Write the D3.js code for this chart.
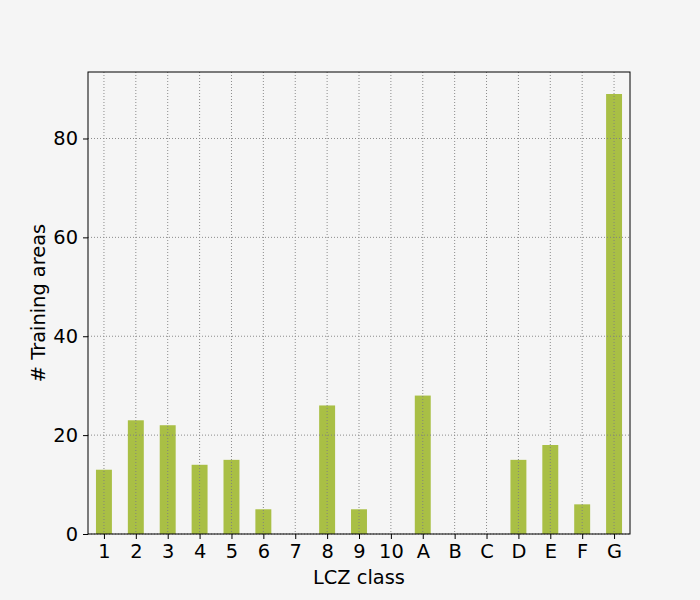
<!DOCTYPE html>
<html><head><meta charset="utf-8">
<script src="https://cdn.jsdelivr.net/npm/d3@7"></script>
<style>body{margin:0;background:#f5f5f5;}svg{display:block;}</style>
</head><body>
<script>
const categories = ["1","2","3","4","5","6","7","8","9","10","A","B","C","D","E","F","G"];
const counts = [13,23,22,14,15,5,0,26,5,0,28,0,0,15,18,6,89];
const yTicks = [0,20,40,60,80];

const W=700,H=600, L=88,R=630,T=72,B=534;
const svg=d3.select("body").append("svg").attr("width",W).attr("height",H).style("background","#f5f5f5");
const x=d3.scaleLinear().domain([-0.5,categories.length-0.5]).range([L,R]);
const y=d3.scaleLinear().domain([0,d3.max(counts)*1.05]).range([B,T]);
const font="DejaVu Sans, sans-serif";
const fs=19.4;

// bars
svg.append("g").selectAll("rect").data(counts).join("rect")
 .attr("x",(d,i)=>x(i-0.25)).attr("width",x(0.25)-x(-0.25))
 .attr("y",d=>y(d)).attr("height",d=>y(0)-y(d)).attr("fill","#a9bf45");

// grid
const g=svg.append("g").attr("stroke","#808080").attr("stroke-width",1).attr("stroke-dasharray","1,2").attr("opacity",0.9);
categories.forEach((c,i)=>g.append("line").attr("x1",x(i)).attr("x2",x(i)).attr("y1",T).attr("y2",B));
yTicks.forEach(t=>g.append("line").attr("x1",L).attr("x2",R).attr("y1",y(t)).attr("y2",y(t)));

// frame
svg.append("rect").attr("x",L).attr("y",T).attr("width",R-L).attr("height",B-T).attr("fill","none").attr("stroke","#000").attr("stroke-width",1);

// axes
const xa=svg.append("g").attr("transform",`translate(0,${B})`)
 .call(d3.axisBottom(x).tickValues(d3.range(categories.length)).tickFormat(i=>categories[i]).tickSizeOuter(0).tickSize(5).tickPadding(5));
const ya=svg.append("g").attr("transform",`translate(${L},0)`)
 .call(d3.axisLeft(y).tickValues(yTicks).tickSizeOuter(0).tickSize(5).tickPadding(5));
[xa,ya].forEach(a=>{a.select(".domain").remove();a.selectAll("text").attr("font-family",font).attr("font-size",fs).attr("fill","#000");a.selectAll("line").attr("stroke","#000");});
xa.selectAll("text").attr("dy","0.74em");

svg.append("text").attr("x",(L+R)/2).attr("y",584).attr("text-anchor","middle").attr("font-family",font).attr("font-size",fs).text("LCZ class");
svg.append("text").attr("transform",`translate(45,${(T+B)/2}) rotate(-90)`).attr("text-anchor","middle").attr("font-family",font).attr("font-size",fs).text("# Training areas");
</script>
</body></html>
